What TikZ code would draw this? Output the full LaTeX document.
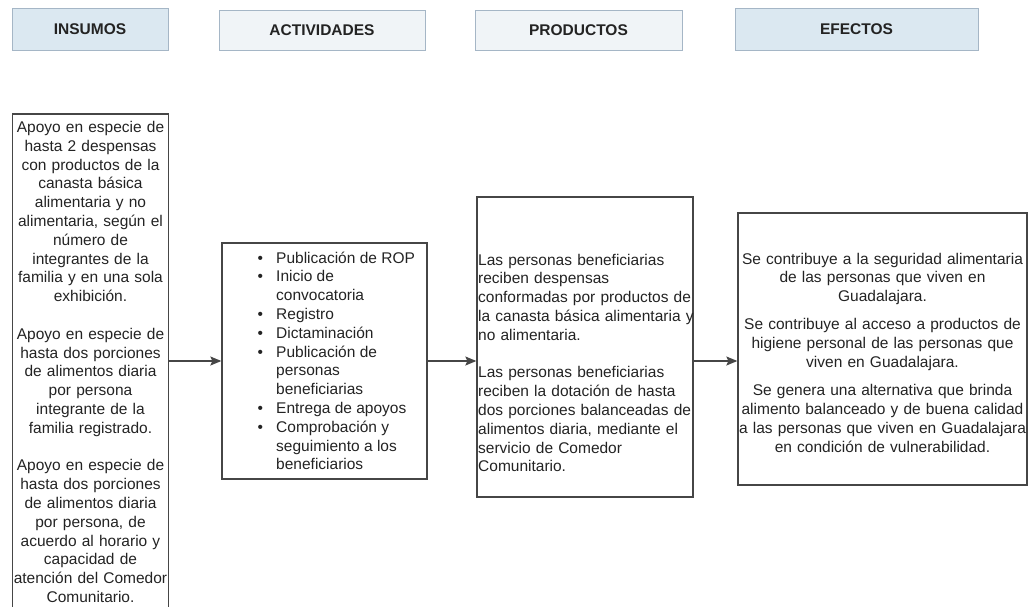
\documentclass[tikz,border=0pt]{standalone}
\usepackage{fontspec}
\setmainfont{Liberation Sans}
\usetikzlibrary{arrows.meta}
\definecolor{hdrblue}{RGB}{219,232,241}
\definecolor{hdrgray}{RGB}{240,244,247}
\definecolor{hdrline}{RGB}{165,182,198}
\definecolor{boxline}{RGB}{70,70,70}
\definecolor{txt}{RGB}{35,35,35}
\tikzset{
  hdr/.style={draw=hdrline, line width=0.8pt, font=\fontsize{15.5}{18.8}\selectfont\bfseries, text=txt, inner sep=0pt},
  box/.style={draw=boxline, line width=1.3pt, inner sep=0pt},
  txtblock/.style={font=\fontsize{15.5}{18.8}\selectfont, text=txt, inner sep=0pt},
  arr/.style={-{Stealth[length=11pt,width=9pt,inset=2pt]}, line width=1.3pt, draw=boxline}
}
\begin{document}
\begin{tikzpicture}[x=1pt,y=-1pt]
        \useasboundingbox (0,0) rectangle (1029,606);
        \clip (0,0) rectangle (1029,606);

        \node [hdr, fill=hdrblue, minimum width=156pt, minimum height=42pt] (hins) at (90,29) {INSUMOS};
        \node [hdr, fill=hdrgray, minimum width=206pt, minimum height=40pt] (hact) at (322,30) {ACTIVIDADES};
        \node [hdr, fill=hdrgray, minimum width=207pt, minimum height=40pt] (hprod) at (578.5,30) {PRODUCTOS};
        \node [hdr, fill=hdrblue, minimum width=243pt, minimum height=42pt] (hefe) at (856.5,29) {EFECTOS};

        \node [box, minimum width=156pt, minimum height=526pt] (ins) at (90.5,377) {};
        \node [box, minimum width=205pt, minimum height=236pt] (act) at (324.5,361) {};
        \node [box, minimum width=216pt, minimum height=300pt] (prod) at (585,347) {};
        \node [box, minimum width=289pt, minimum height=272pt] (efe) at (882.5,349) {};

        \node [txtblock, text width=200pt, align=center, anchor=base] (instxt) at (90.5,132.5) {Apoyo en especie de\\ hasta 2 despensas\\ con productos de la\\ canasta básica\\ alimentaria y no\\ alimentaria, según el\\ número de\\ integrantes de la\\ familia y en una sola\\ exhibición.\\[18.8pt] Apoyo en especie de\\ hasta dos porciones\\ de alimentos diaria\\ por persona\\ integrante de la\\ familia registrado.\\[18.8pt] Apoyo en especie de\\ hasta dos porciones\\ de alimentos diaria\\ por persona, de\\ acuerdo al horario y\\ capacidad de\\ atención del Comedor\\ Comunitario.};

        \node [txtblock, anchor=base west] (acttxt) at (257.3,263) {\begin{tabular}[t]{@{}c@{\hspace{13.3pt}}l@{}}
          \textbullet & Publicación de ROP\\
          \textbullet & Inicio de\\
                      & convocatoria\\
          \textbullet & Registro\\
          \textbullet & Dictaminación\\
          \textbullet & Publicación de\\
                      & personas\\
                      & beneficiarias\\
          \textbullet & Entrega de apoyos\\
          \textbullet & Comprobación y\\
                      & seguimiento a los\\
                      & beneficiarios
        \end{tabular}};

        \node [txtblock, text width=230pt, align=left, anchor=base west] (prodtxt) at (478,265) {Las personas beneficiarias\\ reciben despensas\\ conformadas por productos de\\ la canasta básica alimentaria y\\ no alimentaria.\\[18.8pt] Las personas beneficiarias\\ reciben la dotación de hasta\\ dos porciones balanceadas de\\ alimentos diaria, mediante el\\ servicio de Comedor\\ Comunitario.};

        \node [txtblock, text width=320pt, align=center, anchor=base] (efetxt) at (882.5,264) {Se contribuye a la seguridad alimentaria\\ de las personas que viven en\\ Guadalajara.\\[9.5pt] Se contribuye al acceso a productos de\\ higiene personal de las personas que\\ viven en Guadalajara.\\[9.5pt] Se genera una alternativa que brinda\\ alimento balanceado y de buena calidad\\ a las personas que viven en Guadalajara\\ en condición de vulnerabilidad.};

        \draw [arr] (ins.east |- act.west) -- (act.west);
        \draw [arr] (act.east) -- (prod.west |- act.east);
        \draw [arr] (prod.east |- act.east) -- (efe.west |- act.east);
      \end{tikzpicture}
\end{document}
